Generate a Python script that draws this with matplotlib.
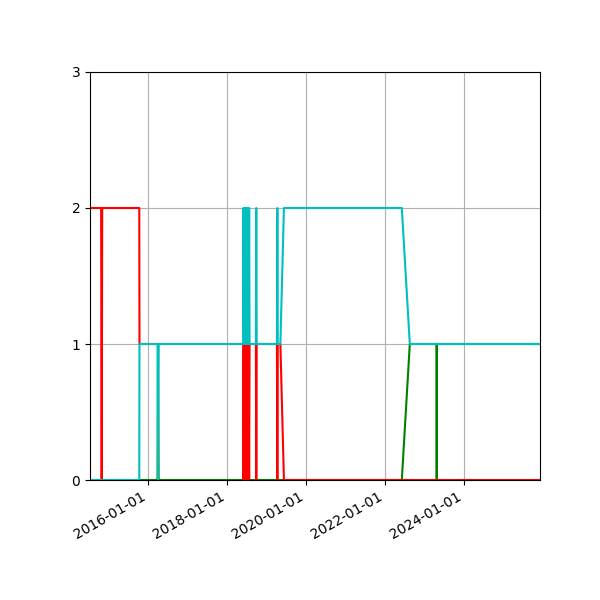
import matplotlib
matplotlib.use("Agg")
import matplotlib.pyplot as plt
import matplotlib.dates as mdates
import pandas as pd

dates = [
    "2014-07-10", "2014-10-21", "2014-10-26", "2014-10-31",
    "2015-10-09", "2015-10-11",
    "2016-03-26", "2016-03-31", "2016-04-05",
    "2018-05-27", "2018-05-29", "2018-06-05", "2018-06-12", "2018-06-19",
    "2018-06-26", "2018-07-03", "2018-07-10", "2018-07-17", "2018-07-22",
    "2018-07-26",
    "2018-09-22", "2018-09-26", "2018-09-30",
    "2019-04-05", "2019-04-09", "2019-04-13",
    "2019-05-07", "2019-06-09",
    "2022-06-04", "2022-08-17",
    "2023-04-21", "2023-04-23", "2023-04-25",
    "2025-12-04",
]
red_values = [
    2, 2, 0, 2,
    2, 1,
    1, 1, 1,
    1, 0, 1, 0, 1,
    0, 1, 0, 1, 0,
    1,
    1, 0, 1,
    1, 0, 1,
    1, 0,
    0, 0,
    0, 0, 0,
    0,
]
green_values = [
    0, 0, 0, 0,
    0, 0,
    0, 1, 0,
    0, 0, 0, 0, 0,
    0, 0, 0, 0, 0,
    0,
    0, 0, 0,
    0, 0, 0,
    0, 0,
    0, 1,
    1, 0, 1,
    1,
]
cyan_values = [
    0, 0, 0, 0,
    0, 1,
    1, 0, 1,
    1, 2, 1, 2, 1,
    2, 1, 2, 1, 2,
    1,
    1, 2, 1,
    1, 2, 1,
    1, 2,
    2, 1,
    1, 1, 1,
    1,
]
y_ticks = [0, 1, 2, 3]

x = pd.to_datetime(dates)

fig = plt.figure(figsize=(6, 6), dpi=100)
ax = fig.add_axes([0.15, 0.2, 0.75, 0.68])
ax.plot(x, green_values, color="g", linewidth=1.5)
ax.plot(x, red_values, color="r", linewidth=1.5)
ax.plot(x, cyan_values, color="c", linewidth=1.5)

ax.set_xlim(x[0], x[-1])
ax.set_ylim(0, 3)
ax.set_yticks(y_ticks)
ax.xaxis.set_major_locator(mdates.YearLocator(2))
ax.xaxis.set_major_formatter(mdates.DateFormatter("%Y-%m-%d"))
ax.grid(True)
for lbl in ax.get_xticklabels():
    lbl.set_rotation(30)
    lbl.set_ha("right")

fig.savefig("out.png", dpi=100)
